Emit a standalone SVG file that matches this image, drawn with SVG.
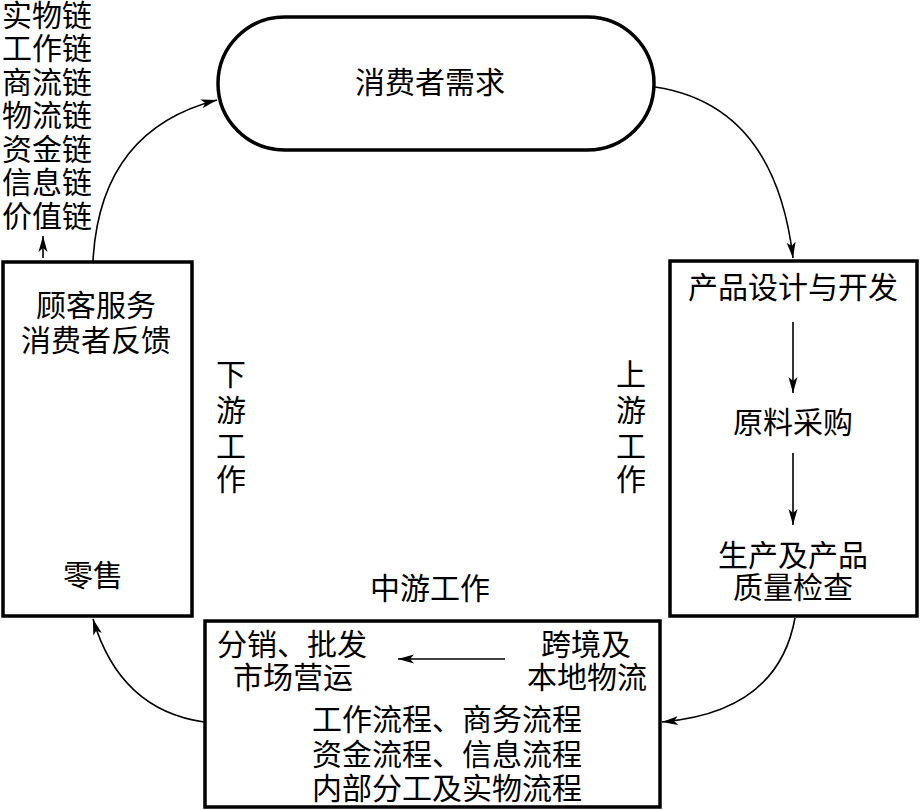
<svg xmlns="http://www.w3.org/2000/svg" width="921" height="810" viewBox="0 0 921 810">
<style>
text{font-family:"Noto Sans CJK SC","Noto Sans CJK JP",sans-serif;font-size:30px;fill:#000;text-anchor:middle}
.box{fill:#fff;stroke:#000;stroke-width:3.5}
.con{fill:none;stroke:#000;stroke-width:1.6}
</style>
<defs>
<marker id="ah" markerUnits="userSpaceOnUse" markerWidth="18" markerHeight="10" refX="16" refY="5" orient="auto">
<path d="M0,0.5 L16,5 L0,9.5 L4,5 z" fill="#000"/>
</marker>
</defs>
<rect width="921" height="810" fill="#fff"/>
<g id="chains">
<text x="47" y="26">实物链</text>
<text x="47" y="59">工作链</text>
<text x="47" y="93">商流链</text>
<text x="47" y="126">物流链</text>
<text x="47" y="160">资金链</text>
<text x="47" y="193">信息链</text>
<text x="47" y="227">价值链</text>
</g>
<g id="demand">
<rect class="box" x="218" y="17" width="436" height="133" rx="66.5"/>
<text x="430" y="93">消费者需求</text>
</g>
<g id="upstream">
<rect class="box" x="670" y="261" width="247" height="355"/>
<text x="793" y="298">产品设计与开发</text>
<text x="793" y="433">原料采购</text>
<text x="793" y="566">生产及产品</text>
<text x="793" y="598">质量检查</text>
</g>
<g id="downstream">
<rect class="box" x="3" y="262" width="189" height="354"/>
<text x="96" y="316">顾客服务</text>
<text x="96" y="351">消费者反馈</text>
<text x="93" y="586">零售</text>
</g>
<g id="midstream">
<rect class="box" x="205" y="621" width="455" height="186"/>
<text x="292" y="655">分销、批发</text>
<text x="293" y="688">市场营运</text>
<text x="586" y="655">跨境及</text>
<text x="587" y="688">本地物流</text>
<text x="447" y="730">工作流程、商务流程</text>
<text x="447" y="765">资金流程、信息流程</text>
<text x="447" y="799">内部分工及实物流程</text>
</g>
<g id="labels">
<text x="231" y="385">下</text>
<text x="231" y="421">游</text>
<text x="231" y="457">工</text>
<text x="231" y="490">作</text>
<text x="631" y="385">上</text>
<text x="631" y="421">游</text>
<text x="631" y="457">工</text>
<text x="631" y="490">作</text>
<text x="430" y="599">中游工作</text>
</g>
<g id="connectors">
<path class="con" d="M43,258 L43,236" marker-end="url(#ah)"/>
<path class="con" d="M93,261 Q100,130 217,100" marker-end="url(#ah)"/>
<path class="con" d="M655,87 Q775,105 793,258" marker-end="url(#ah)"/>
<path class="con" d="M793,322 L793,393" marker-end="url(#ah)"/>
<path class="con" d="M793,453 L793,525" marker-end="url(#ah)"/>
<path class="con" d="M795,618 Q778,712 662,722" marker-end="url(#ah)"/>
<path class="con" d="M505,659 L398,659" marker-end="url(#ah)"/>
<path class="con" d="M204,722 Q120,710 93,619" marker-end="url(#ah)"/>
</g>
</svg>
